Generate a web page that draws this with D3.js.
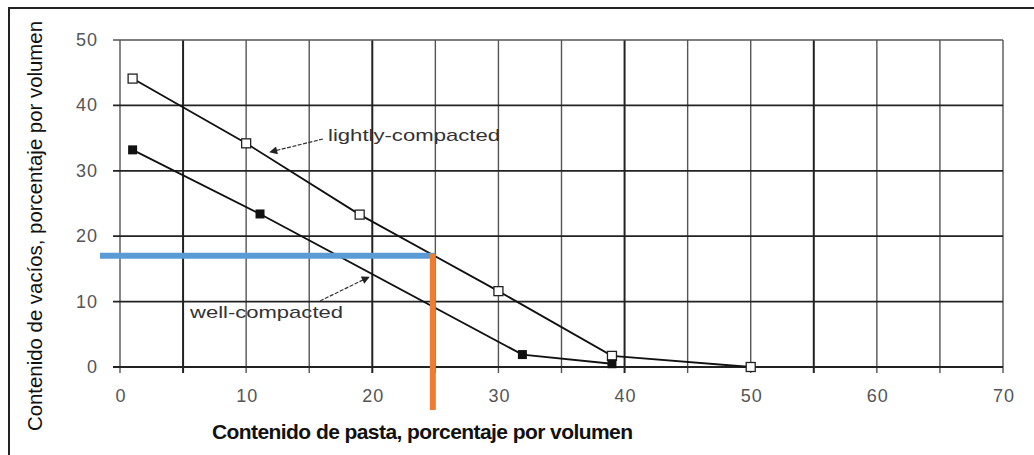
<!DOCTYPE html>
<html lang="es">
  <head>
    <meta charset="utf-8">
    <style>
      body { margin: 0; background: #fff; }
      .grid line { stroke: #555; stroke-width: 1.4; }
      .grid line.heavy { stroke: #222; stroke-width: 2; }
      .tick-label { font-family: Arial, "Liberation Sans", sans-serif; font-size: 18px; fill: #555; letter-spacing: 1px; }
      .series { fill: none; stroke: #111; stroke-width: 1.8; }
      .note { font-family: Arial, "Liberation Sans", sans-serif; font-size: 17px; fill: #333; }
    </style>
  </head>
  <body>
  <script src="https://d3js.org/d3.v7.min.js"></script>
  <script>
  // values
  var lightX = [1, 10, 19, 30, 39, 50];
  var lightY = [44.1, 34.2, 23.3, 11.6, 1.7, 0];
  var wellX = [1, 11.1, 31.9, 39];
  var wellY = [33.2, 23.4, 1.9, 0.5];
  var xTicks = [0, 10, 20, 30, 40, 50, 60, 70];
  var yTicks = [0, 10, 20, 30, 40, 50];
  var xGrid = d3.range(0, 71, 5);
  var heavyX = [5, 20, 40, 55];
  var readX = 24.8, readY = 17;   // blue / orange read-off lines

  var width = 1034, height = 455;

  var svg = d3.select("body").append("svg")
    .attr("width", width)
    .attr("height", height);

  var x = d3.scaleLinear().domain([0, 70]).range([120, 1003]);
  var y = d3.scaleLinear().domain([0, 50]).range([367, 40]);

  // outer frame (only top and left show)
  svg.append("path")
    .attr("d", "M9,455V8H1034")
    .attr("fill", "none")
    .attr("stroke", "#222")
    .attr("stroke-width", 2);

  // grid
  var grid = svg.append("g").attr("class", "grid");
  grid.selectAll(".v").data(xGrid).enter().append("line")
    .attr("class", function(d) { return heavyX.indexOf(d) >= 0 ? "v heavy" : "v"; })
    .attr("x1", function(d) { return x(d); })
    .attr("x2", function(d) { return x(d); })
    .attr("y1", y(50))
    .attr("y2", y(0) + 6);
  grid.selectAll(".h").data(yTicks).enter().append("line")
    .attr("class", function(d) { return d == 50 ? "h" : "h heavy"; })
    .attr("x1", x(0) - 7)
    .attr("x2", x(70))
    .attr("y1", function(d) { return y(d); })
    .attr("y2", function(d) { return y(d); })
    .style("stroke-width", function(d) { return d == 50 ? 1.4 : 1.8; });

  // tick labels
  svg.selectAll(".xl").data(xTicks).enter().append("text")
    .attr("class", "tick-label")
    .attr("x", function(d) { return x(d) + 1; })
    .attr("y", 402)
    .attr("text-anchor", "middle")
    .text(function(d) { return d; });
  svg.selectAll(".yl").data(yTicks).enter().append("text")
    .attr("class", "tick-label")
    .attr("x", 98)
    .attr("y", function(d) { return y(d) + 6; })
    .attr("text-anchor", "end")
    .text(function(d) { return d; });

  // axis titles
  svg.append("text")
    .attr("x", 212)
    .attr("y", 439)
    .attr("textLength", 421)
    .attr("lengthAdjust", "spacing")
    .style("font-family", "Arial, 'Liberation Sans', sans-serif")
    .style("font-weight", "bold")
    .style("font-size", "21px")
    .style("fill", "#111")
    .text("Contenido de pasta, porcentaje por volumen");

  svg.append("text")
    .attr("transform", "translate(42,226) rotate(-90)")
    .attr("text-anchor", "middle")
    .attr("textLength", 410)
    .attr("lengthAdjust", "spacingAndGlyphs")
    .style("font-family", "'Liberation Sans Narrow', 'Arial Narrow', Arial, sans-serif")
    .style("font-size", "21px")
    .style("fill", "#111")
    .text("Contenido de vacíos, porcentaje por volumen");

  // series
  var line = d3.line()
    .x(function(d) { return x(d[0]); })
    .y(function(d) { return y(d[1]); });

  var light = d3.zip(lightX, lightY);
  var well = d3.zip(wellX, wellY);

  svg.append("path").datum(light).attr("class", "series").attr("d", line);
  svg.append("path").datum(well).attr("class", "series").attr("d", line);

  svg.selectAll(".lp").data(light).enter().append("rect")
    .attr("x", function(d) { return x(d[0]) - 4.5; })
    .attr("y", function(d) { return y(d[1]) - 4.5; })
    .attr("width", 9).attr("height", 9)
    .attr("fill", "#fff")
    .attr("stroke", "#222")
    .attr("stroke-width", 1.3);

  svg.selectAll(".wp").data(well).enter().append("rect")
    .attr("x", function(d) { return x(d[0]) - 4.5; })
    .attr("y", function(d) { return y(d[1]) - 4.5; })
    .attr("width", 9).attr("height", 9)
    .attr("fill", "#111");

  // labels with arrows
  svg.append("defs").append("marker")
    .attr("id", "arr")
    .attr("viewBox", "0 0 10 10")
    .attr("refX", 9).attr("refY", 5)
    .attr("markerWidth", 12).attr("markerHeight", 8)
    .attr("markerUnits", "userSpaceOnUse")
    .attr("orient", "auto")
    .append("path").attr("d", "M0,0L10,5L0,10z").attr("fill", "#222");

  svg.append("text").attr("class", "note")
    .attr("x", 328).attr("y", 141)
    .attr("textLength", 172)
    .attr("lengthAdjust", "spacingAndGlyphs")
    .text("lightly-compacted");
  svg.append("line")
    .attr("x1", 323).attr("y1", 139)
    .attr("x2", 270).attr("y2", 152)
    .attr("stroke", "#333").attr("stroke-width", 1.2)
    .attr("stroke-dasharray", "4,1.5")
    .attr("marker-end", "url(#arr)");

  svg.append("text").attr("class", "note")
    .attr("x", 190).attr("y", 318)
    .attr("textLength", 153)
    .attr("lengthAdjust", "spacingAndGlyphs")
    .text("well-compacted");
  svg.append("line")
    .attr("x1", 320).attr("y1", 301)
    .attr("x2", 369).attr("y2", 277)
    .attr("stroke", "#333").attr("stroke-width", 1.2)
    .attr("stroke-dasharray", "4,1.5")
    .attr("marker-end", "url(#arr)");

  // read-off lines drawn on top
  svg.append("line")
    .attr("x1", 100).attr("x2", x(readX) + 2)
    .attr("y1", y(readY)).attr("y2", y(readY))
    .attr("stroke", "#5B9BD5").attr("stroke-width", 6);
  svg.append("line")
    .attr("x1", x(readX)).attr("x2", x(readX))
    .attr("y1", y(readY) - 2).attr("y2", 410)
    .attr("stroke", "#ED7D31").attr("stroke-width", 6);
  </script>
  </body>
</html>
